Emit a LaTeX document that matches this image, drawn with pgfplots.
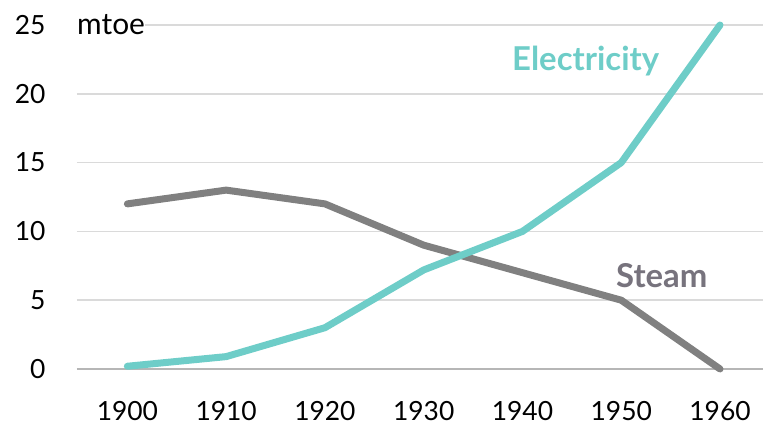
\documentclass[border=0pt]{standalone}
\usepackage{pgfplots}
\pgfplotsset{compat=1.18}
\usepackage{fontspec}
\setmainfont{Lato}
\definecolor{elec}{HTML}{6ECDC8}
\definecolor{steam}{HTML}{808080}
\definecolor{steamlab}{HTML}{77737D}
\definecolor{gridc}{HTML}{DADADA}
\begin{document}
\begin{tikzpicture}[x=1bp,y=1bp]
\begin{axis}[
  at={(0,0)}, anchor=south west,
  scale only axis, width=686bp, height=344bp,
  xmin=1894.9, xmax=1964.35, ymin=0, ymax=25,
  axis line style={draw=none},
  clip=false,
  ymajorgrids, grid style={gridc, line width=1.5bp},
  xtick={1900,1910,...,1960}, ytick={0,5,...,25},
  xticklabel style={yshift=-29bp},
  yticklabel style={xshift=-28bp},
  /pgf/number format/assume math mode=true,
  /pgf/number format/1000 sep={},
  ticklabel style={font=\fontsize{26.5}{29}\selectfont, text=black},
  major tick length=0pt,
  xtick style={draw=none}, ytick style={draw=none},
]
\draw[gridc!60!gray, line width=2bp] (axis cs:1894.9,0) -- (axis cs:1964.35,0);
\addplot[steam, line width=7bp, line cap=round, line join=round] coordinates {
(1900,12) (1910,13) (1920,12) (1930,9) (1940,7) (1950,5) (1960,0)};
\addplot[elec, line width=7bp, line cap=round, line join=round] coordinates {
(1900,0.2) (1910,0.9) (1920,3) (1930,7.2) (1940,10) (1950,15) (1960,25)};
\node[fill=white, anchor=west, inner xsep=0bp, inner ysep=1bp, font=\fontsize{30}{32}\selectfont] at (rel axis cs:0,1.0) {mtoe};
\node[text=elec, font=\fontsize{33}{36}\selectfont\bfseries] at (axis cs:1946.4,22.4) {Electricity};
\node[text=steamlab, font=\fontsize{33}{36}\selectfont\bfseries] at (axis cs:1954.1,6.8) {Steam};
\end{axis}
\pgfresetboundingbox
\path (-77bp,-60bp) rectangle (686bp,369bp);
\end{tikzpicture}
\end{document}
